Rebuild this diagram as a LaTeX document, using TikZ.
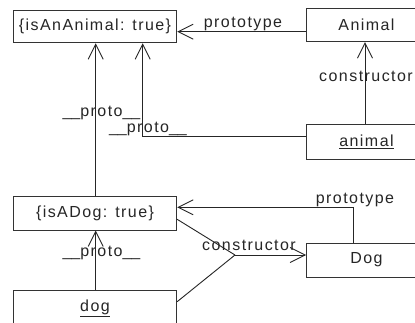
\documentclass[tikz,border=0pt]{standalone}
\usepackage{fontspec}
\setmainfont{Liberation Sans}[LetterSpace=9]
\newfontfamily\plainfnt{Liberation Sans}
\newcommand{\usc}{{\plainfnt\_\_}}
\usetikzlibrary{arrows.meta,calc}
\begin{document}
\begin{tikzpicture}[x=1pt,y=-1pt,
  box/.style={draw=black!80,line width=0.9pt,rectangle,inner sep=0pt,font=\fontsize{16}{18}\selectfont,text=black!85},
  lbl/.style={inner sep=0pt,anchor=base,font=\fontsize{16}{18}\selectfont,text=black!85},
  conn/.style={draw=black!85,line width=0.9pt},
  arr/.style={conn,-{Straight Barb[length=15pt,width=15pt,line width=0.9pt]}}]
\useasboundingbox (0,0) rectangle (415,323);
\fill[white] (0,0) rectangle (415,323);
% boxes
\node[box,minimum width=163.4pt,minimum height=32.7pt] (objA) at (95,26.5) {\{isAnAnimal: true\}};
\node[box,minimum width=120pt,minimum height=33.4pt] (Animal) at (366.5,25) {Animal};
\node[box,minimum width=120pt,minimum height=34.5pt] (animal) at (366.5,142) {\underline{animal}};
\node[box,minimum width=163.4pt,minimum height=34pt] (objDog) at (95,213) {\{isADog: true\}};
\node[box,minimum width=120pt,minimum height=34pt] (Dog) at (366.5,260) {Dog};
\node[box,minimum width=163.4pt,minimum height=36pt] (dog) at (95,308) {\underline{dog}};
% helper coordinates
\coordinate (J) at (235,255);
% connectors
\draw[arr] (Animal.west |- 0,31.7) -- (objA.east |- 0,31.7);
\draw[arr] (animal.west |- 0,136.7) -| (objA.south -| 142.7,0);
\draw[arr] (animal.north -| 365,0) -- (Animal.south -| 365,0);
\draw[arr] (objDog.north -| 95.7,0) -- (objA.south -| 95.7,0);
\draw[arr] (Dog.north -| 353.3,0) |- (objDog.east |- 0,207.3);
\draw[arr] (dog.north -| 95.7,0) -- (objDog.south -| 95.7,0);
\draw[conn] (objDog.east |- 0,219.3) -- (J);
\draw[conn] (dog.east |- 0,301.7) -- (J);
\draw[arr] (J) -- (Dog.west |- J);
% labels
\node[lbl] (l1) at (243,28) {prototype};
\node[lbl] (l2) at (366,81.5) {constructor};
\node[lbl] (l3) at (101.5,117) {\usc proto\usc};
\node[lbl] (l4) at (148,133) {\usc proto\usc};
\node[lbl] (l5) at (355,204) {prototype};
\node[lbl] (l6) at (249,250.5) {constructor};
\node[lbl] (l7) at (101.5,257) {\usc proto\usc};
\end{tikzpicture}
\end{document}
